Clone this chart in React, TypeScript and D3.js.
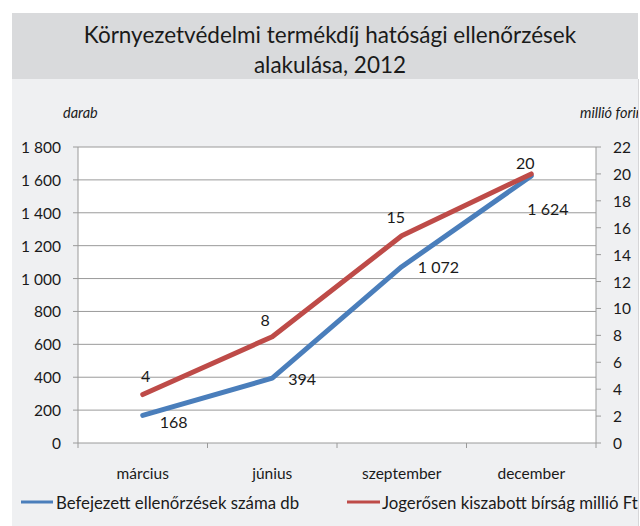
import React from "react";
import * as d3 from "d3";

const categories = ["március", "június", "szeptember", "december"];
const inspections = [168, 394, 1072, 1624];
const fines = [3.6, 7.9, 15.4, 20.0];
const leftTicks = [0, 200, 400, 600, 800, 1000, 1200, 1400, 1600, 1800];
const rightTicks = [0, 2, 4, 6, 8, 10, 12, 14, 16, 18, 20, 22];
const titleLines = ["Környezetvédelmi termékdíj hatósági ellenőrzések", "alakulása, 2012"];
const seriesNames = ["Befejezett ellenőrzések száma db", "Jogerősen kiszabott bírság millió Ft"];

const W = 640, H = 526;
const plot = { left: 78, right: 596, top: 147, bottom: 443 };
const BLUE = "#4a7ebb";
const RED = "#be4b48";
const FONT = "Lato, 'Open Sans', sans-serif";
const INK = "#1a1a1a";

const loc = d3.formatLocale({ decimal: ",", thousands: "\u00a0", grouping: [3], currency: ["", " Ft"] });
const fmtInt = loc.format(",.0f");

export default function App() {
  const x = d3.scaleBand<string>().domain(categories).range([plot.left, plot.right]);
  const yL = d3.scaleLinear().domain([0, 1800]).range([plot.bottom, plot.top]);
  const yR = d3.scaleLinear().domain([0, 22]).range([plot.bottom, plot.top]);
  const cx = (c: string) => (x(c) as number) + x.bandwidth() / 2;

  const lineL = d3.line<number>().x((_, i) => cx(categories[i])).y((d) => yL(d));
  const lineR = d3.line<number>().x((_, i) => cx(categories[i])).y((d) => yR(d));

  const blueOff = [[17, 6], [16, 0], [16, 0], [-4, 33]];
  const redOff = [[3, -19], [-7, -17], [-6, -19], [-6, -11]];
  const boundaries = [...categories.map((c) => x(c) as number), plot.right];

  return (
    <svg width={W} height={H} style={{ position: "absolute", left: 0, top: 0 }} fontFamily={FONT}>
      <defs>
        <clipPath id="chartclip">
          <rect x={12} y={13} width={626} height={513} />
        </clipPath>
      </defs>
      <rect x={0} y={0} width={W} height={H} fill="#ffffff" />
      <g clipPath="url(#chartclip)">
        <rect x={12} y={13} width={626} height={513} fill="#eff0f2" />
        <rect x={12} y={13} width={628} height={66} fill="#d9dadc" />
        {titleLines.map((t, i) => (
          <text key={t} x={330} y={34 + i * 30} textAnchor="middle" dominantBaseline="central" fontSize={22.5} fill={INK}>
            {t}
          </text>
        ))}
        <text x={63} y={112} dominantBaseline="central" fontSize={14.5} fontStyle="italic" fill={INK}>darab</text>
        <text x={580} y={112} dominantBaseline="central" fontSize={14.5} fontStyle="italic" fill={INK}>millió forint</text>

        <rect x={plot.left} y={plot.top} width={plot.right - plot.left} height={plot.bottom - plot.top} fill="#ffffff" />
        {leftTicks.map((t) => (
          <g key={"l" + t}>
            <line x1={plot.left - 5} x2={plot.right} y1={yL(t)} y2={yL(t)} stroke="#9a9a9a" strokeWidth={1} />
            <text x={61} y={yL(t)} textAnchor="end" dominantBaseline="central" fontSize={15.5} fill={INK}>
              {fmtInt(t)}
            </text>
          </g>
        ))}
        {rightTicks.map((t) => (
          <g key={"r" + t}>
            <line x1={plot.right} x2={plot.right + 5} y1={yR(t)} y2={yR(t)} stroke="#9a9a9a" strokeWidth={1} />
            <text x={613} y={yR(t)} textAnchor="start" dominantBaseline="central" fontSize={15.5} fill={INK}>
              {fmtInt(t)}
            </text>
          </g>
        ))}
        <line x1={plot.left} x2={plot.left} y1={plot.top} y2={plot.bottom} stroke="#9a9a9a" />
        <line x1={plot.right} x2={plot.right} y1={plot.top} y2={plot.bottom} stroke="#9a9a9a" />
        {boundaries.map((b, i) => (
          <line key={"b" + i} x1={b} x2={b} y1={plot.bottom} y2={plot.bottom + 5} stroke="#9a9a9a" />
        ))}
        {categories.map((c) => (
          <text key={c} x={cx(c)} y={473} textAnchor="middle" dominantBaseline="central" fontSize={15.5} fill={INK}>
            {c}
          </text>
        ))}

        <path d={lineL(inspections) || ""} fill="none" stroke={BLUE} strokeWidth={5} strokeLinejoin="round" strokeLinecap="round" />
        <path d={lineR(fines) || ""} fill="none" stroke={RED} strokeWidth={5} strokeLinejoin="round" strokeLinecap="round" />

        {inspections.map((v, i) => (
          <text key={"bl" + i} x={cx(categories[i]) + blueOff[i][0]} y={yL(v) + blueOff[i][1]} dominantBaseline="central" fontSize={16} fill={INK}>
            {fmtInt(v)}
          </text>
        ))}
        {fines.map((v, i) => (
          <text key={"rl" + i} x={cx(categories[i]) + redOff[i][0]} y={yR(v) + redOff[i][1]} textAnchor="middle" dominantBaseline="central" fontSize={16} fill={INK}>
            {fmtInt(v)}
          </text>
        ))}

        <line x1={21} x2={53} y1={502} y2={502} stroke={BLUE} strokeWidth={3} />
        <text x={56} y={502} dominantBaseline="central" fontSize={16.8} fill={INK}>{seriesNames[0]}</text>
        <line x1={347} x2={380} y1={502} y2={502} stroke={RED} strokeWidth={3} />
        <text x={382} y={502} dominantBaseline="central" fontSize={16.8} fill={INK}>{seriesNames[1]}</text>
      </g>
      <line x1={638.5} x2={638.5} y1={79} y2={526} stroke="#d6d6d8" />
    </svg>
  );
}
